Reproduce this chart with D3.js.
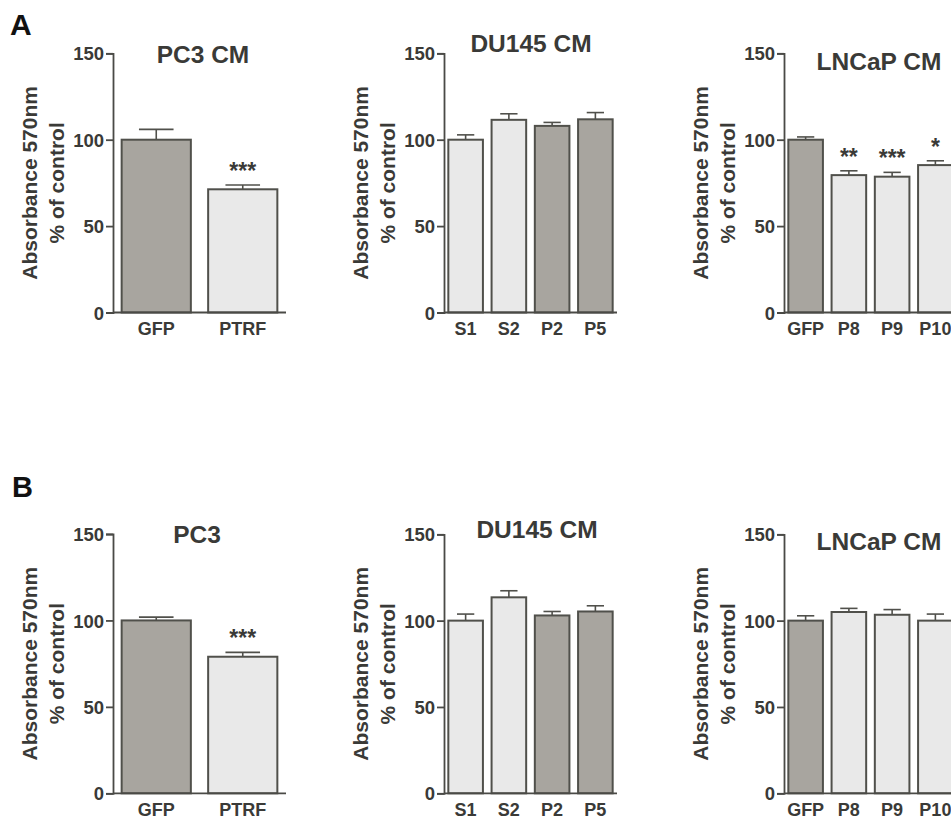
<!DOCTYPE html>
<html>
<head>
<meta charset="utf-8">
<script src="https://cdn.jsdelivr.net/npm/d3@7"></script>
<style>
  html, body { margin: 0; padding: 0; background: #fff; }
  svg { display: block; }
  text { font-family: "Liberation Sans", Arial, sans-serif; font-weight: bold; fill: #3a3a37; }
</style>
</head>
<body>
<svg id="chart" width="951" height="819"></svg>
<script>
// ---- Data ----
const yTicks = [0, 50, 100, 150];

const a1Categories = ["GFP", "PTRF"];
const a1Values = [100, 71.3];
const a1Errors = [6, 2.5];
const a1Stars = ["", "***"];
const a1Dark = [true, false];

const a2Categories = ["S1", "S2", "P2", "P5"];
const a2Values = [100, 111.5, 108, 111.8];
const a2Errors = [2.8, 3.5, 2, 3.9];
const a2Stars = ["", "", "", ""];
const a2Dark = [false, false, true, true];

const a3Categories = ["GFP", "P8", "P9", "P10"];
const a3Values = [100, 79.5, 78.6, 85.3];
const a3Errors = [1.6, 2.5, 2.5, 2.5];
const a3Stars = ["", "**", "***", "*"];
const a3Dark = [true, false, false, false];

const b1Categories = ["GFP", "PTRF"];
const b1Values = [100, 79];
const b1Errors = [1.9, 2.5];
const b1Stars = ["", "***"];
const b1Dark = [true, false];

const b2Categories = ["S1", "S2", "P2", "P5"];
const b2Values = [100, 113.5, 103, 105.3];
const b2Errors = [3.8, 3.8, 2.3, 3.3];
const b2Stars = ["", "", "", ""];
const b2Dark = [false, false, true, true];

const b3Categories = ["GFP", "P8", "P9", "P10"];
const b3Values = [100, 105, 103.4, 100];
const b3Errors = [2.8, 2.1, 3, 3.8];
const b3Stars = ["", "", "", ""];
const b3Dark = [true, false, false, false];

const titles = ["PC3 CM", "DU145 CM", "LNCaP CM", "PC3", "DU145 CM", "LNCaP CM"];
const yLabelLines = ["Absorbance 570nm", "% of control"];
const panelLetters = ["A", "B"];

// ---- Layout ----
const svg = d3.select("#chart");
const DARK = "#a8a59f", LIGHT = "#e9e9e9", STROKE = "#50504b", AXIS = "#4a4a46";

const panels = [
  { cats: a1Categories, vals: a1Values, errs: a1Errors, stars: a1Stars, dark: a1Dark, title: titles[0],
    x0: 113, x1: 286, yTop: 53.3, yBot: 312.5, titleX: 203, titleY: 62.5 },
  { cats: a2Categories, vals: a2Values, errs: a2Errors, stars: a2Stars, dark: a2Dark, title: titles[1],
    x0: 444, x1: 617, yTop: 53.3, yBot: 312.5, titleX: 531, titleY: 51.5 },
  { cats: a3Categories, vals: a3Values, errs: a3Errors, stars: a3Stars, dark: a3Dark, title: titles[2],
    x0: 784, x1: 957, yTop: 53.3, yBot: 312.5, titleX: 879, titleY: 70 },
  { cats: b1Categories, vals: b1Values, errs: b1Errors, stars: b1Stars, dark: b1Dark, title: titles[3],
    x0: 113, x1: 286, yTop: 534, yBot: 793.3, titleX: 197, titleY: 543 },
  { cats: b2Categories, vals: b2Values, errs: b2Errors, stars: b2Stars, dark: b2Dark, title: titles[4],
    x0: 444, x1: 617, yTop: 534.3, yBot: 793.3, titleX: 537, titleY: 537.5 },
  { cats: b3Categories, vals: b3Values, errs: b3Errors, stars: b3Stars, dark: b3Dark, title: titles[5],
    x0: 784, x1: 957, yTop: 534.3, yBot: 793.3, titleX: 879, titleY: 549.5 }
];

// panel letters
svg.append("text").attr("x", 10).attr("y", 35).attr("font-size", 30).style("fill", "#111").text(panelLetters[0]);
svg.append("text").attr("x", 12).attr("y", 497).attr("font-size", 29).style("fill", "#111").text(panelLetters[1]);

panels.forEach(p => {
  const g = svg.append("g");
  const y = d3.scaleLinear().domain([0, 150]).range([p.yBot, p.yTop]);
  const x = d3.scaleBand().domain(p.cats).range([p.x0, p.x1]).paddingInner(0.2).paddingOuter(0.1);

  const data = p.cats.map((c, i) => ({ c, v: p.vals[i], e: p.errs[i], s: p.stars[i], d: p.dark[i] }));

  // error bars (upper only)
  data.forEach(d => {
    const cx = x(d.c) + x.bandwidth() / 2;
    const capW = x.bandwidth() / 2;
    g.append("line").attr("x1", cx).attr("x2", cx).attr("y1", y(d.v)).attr("y2", y(d.v + d.e))
      .attr("stroke", STROKE).attr("stroke-width", 1.6);
    g.append("line").attr("x1", cx - capW / 2).attr("x2", cx + capW / 2)
      .attr("y1", y(d.v + d.e)).attr("y2", y(d.v + d.e))
      .attr("stroke", STROKE).attr("stroke-width", 1.6);
    if (d.s) {
      g.append("text").attr("x", cx).attr("y", y(d.v + d.e) - 6)
        .attr("text-anchor", "middle").attr("font-size", 23).text(d.s);
    }
  });

  g.selectAll("rect.bar").data(data).enter().append("rect")
    .attr("class", "bar")
    .attr("x", d => x(d.c))
    .attr("width", x.bandwidth())
    .attr("y", d => y(d.v))
    .attr("height", d => y(0) - y(d.v))
    .attr("fill", d => d.d ? DARK : LIGHT)
    .attr("stroke", STROKE)
    .attr("stroke-width", 2);

  // y axis
  const yAxis = d3.axisLeft(y).tickValues(yTicks).tickSize(7).tickPadding(2).tickFormat(d3.format("d"));
  const ya = g.append("g").attr("transform", `translate(${p.x0},0)`).call(yAxis);
  ya.select(".domain").attr("stroke", AXIS).attr("stroke-width", 1.8);
  ya.selectAll(".tick line").attr("stroke", AXIS).attr("stroke-width", 1.8);
  ya.selectAll(".tick text").attr("font-size", 18.5).attr("font-family", null).style("fill", "#3a3a37").attr("dy", "0.36em");

  // x axis (line + labels, no ticks)
  const xAxis = d3.axisBottom(x).tickSize(0).tickPadding(10);
  const xa = g.append("g").attr("transform", `translate(0,${p.yBot})`).call(xAxis);
  xa.select(".domain").attr("stroke", AXIS).attr("stroke-width", 1.8).attr("d", `M${p.x0},0H${p.x1}`);
  xa.selectAll(".tick text").attr("font-size", 18).attr("font-family", null).style("fill", "#3a3a37");

  // y label
  const cy = (p.yTop + p.yBot) / 2;
  g.append("text").attr("transform", `translate(${p.x0 - 76},${cy}) rotate(-90)`)
    .attr("text-anchor", "middle").attr("font-size", 21).text(yLabelLines[0]);
  g.append("text").attr("transform", `translate(${p.x0 - 49},${cy}) rotate(-90)`)
    .attr("text-anchor", "middle").attr("font-size", 21).text(yLabelLines[1]);

  // title
  g.append("text").attr("x", p.titleX).attr("y", p.titleY).attr("text-anchor", "middle")
    .attr("font-size", 24.5).text(p.title);
});
</script>
</body>
</html>
